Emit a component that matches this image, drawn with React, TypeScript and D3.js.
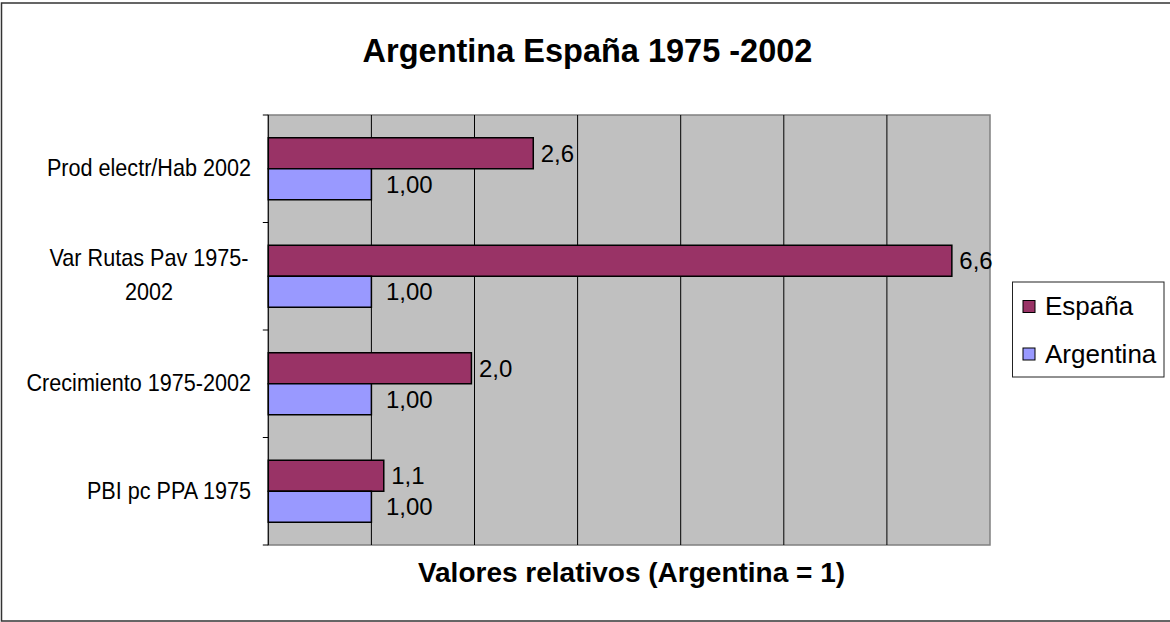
import React from 'react';
import * as d3 from 'd3';

const categories = ['Prod electr/Hab 2002', 'Var Rutas Pav 1975-2002', 'Crecimiento 1975-2002', 'PBI pc PPA 1975'];
const categoryLines = [['Prod electr/Hab 2002'], ['Var Rutas Pav 1975-', '2002'], ['Crecimiento 1975-2002'], ['PBI pc PPA 1975']];
const series = ['España', 'Argentina'];
const espana = [2.57, 6.63, 1.97, 1.12];
const argentina = [1.0, 1.0, 1.0, 1.0];
const seriesColors = ['#993366', '#9999FF'];
const seriesFormats = ['.1f', '.2f'];
const gridValues = [0, 1, 2, 3, 4, 5, 6, 7];

const W = 1170;
const H = 622;
const plot = { left: 268.3, right: 990, top: 115, bottom: 545 };
const font = '"Liberation Sans", Arial, sans-serif';

const locale = d3.formatLocale({ decimal: ',', thousands: '.', grouping: [3], currency: ['', '€'] });

const App = () => {
  const x = d3.scaleLinear().domain([0, 7]).range([plot.left, plot.right]);
  const y = d3.scaleBand().domain(categories).range([plot.top, plot.bottom]).padding(0);
  const inner = d3
    .scaleBand()
    .domain(series)
    .range([0, y.bandwidth()])
    .paddingInner(0)
    .paddingOuter(0.734);
  const values = [espana, argentina];
  const labelGap = [7.5, 14.5];

  return (
    <svg
      width={W}
      height={H}
      style={{ position: 'absolute', left: 0, top: 0, background: '#fff' }}
      fontFamily={font}
    >
      <rect x={1.5} y={3} width={W + 10} height={618} fill="#fff" stroke="#333" strokeWidth={1.5} />

      <text x={587.5} y={61.5} textAnchor="middle" fontWeight="bold" fontSize={32.5}>
        Argentina España 1975 -2002
      </text>

      {/* plot area */}
      <rect
        x={plot.left}
        y={plot.top}
        width={plot.right - plot.left}
        height={plot.bottom - plot.top}
        fill="#C0C0C0"
        stroke="#808080"
        strokeWidth={1.5}
      />
      {gridValues.slice(1, -1).map(v => (
        <line key={v} x1={x(v)} x2={x(v)} y1={plot.top} y2={plot.bottom} stroke="#000" strokeWidth={1} />
      ))}

      {/* category axis */}
      <line x1={plot.left} x2={plot.left} y1={plot.top} y2={plot.bottom} stroke="#000" strokeWidth={1} />
      {[...categories.map(c => y(c)), plot.bottom].map((t, i) => (
        <line key={i} x1={plot.left - 5.5} x2={plot.left} y1={t} y2={t} stroke="#000" strokeWidth={1} />
      ))}
      {categories.map((c, i) => {
        const mid = y(c) + y.bandwidth() / 2;
        const lines = categoryLines[i];
        if (lines.length === 1) {
          return (
            <text key={c} transform={`translate(251,${mid + 7.5}) scale(0.9,1)`} textAnchor="end" fontSize={24}>
              {lines[0]}
            </text>
          );
        }
        return (
          <text key={c} transform={`translate(149,${mid + 7 - 17}) scale(0.9,1)`} textAnchor="middle" fontSize={24}>
            {lines.map((l, j) => (
              <tspan key={j} x={0} dy={j === 0 ? 0 : 34}>
                {l}
              </tspan>
            ))}
          </text>
        );
      })}

      {/* bars */}
      {categories.map((c, i) =>
        series.map((s, k) => {
          const v = values[k][i];
          const by = y(c) + inner(s);
          return (
            <g key={c + s}>
              <rect
                x={x(0)}
                y={by}
                width={x(v) - x(0)}
                height={inner.bandwidth()}
                fill={seriesColors[k]}
                stroke="#000"
                strokeWidth={1.5}
              />
              <text x={x(v) + labelGap[k]} y={by + inner.bandwidth() / 2 + 8.6} fontSize={24}>
                {locale.format(seriesFormats[k])(v)}
              </text>
            </g>
          );
        })
      )}

      <text x={631.5} y={581.5} textAnchor="middle" fontWeight="bold" fontSize={28}>
        Valores relativos (Argentina = 1)
      </text>

      {/* legend */}
      <rect x={1012.5} y={282} width={151.5} height={95} fill="#fff" stroke="#222" strokeWidth={1} />
      {series.map((s, k) => (
        <g key={s} transform={`translate(1023,${300.5 + k * 47.5})`}>
          <rect width={12} height={12} fill={seriesColors[k]} stroke="#000" strokeWidth={1} />
          <text x={22} y={14.5} fontSize={26}>
            {s}
          </text>
        </g>
      ))}
    </svg>
  );
};

export default App;
